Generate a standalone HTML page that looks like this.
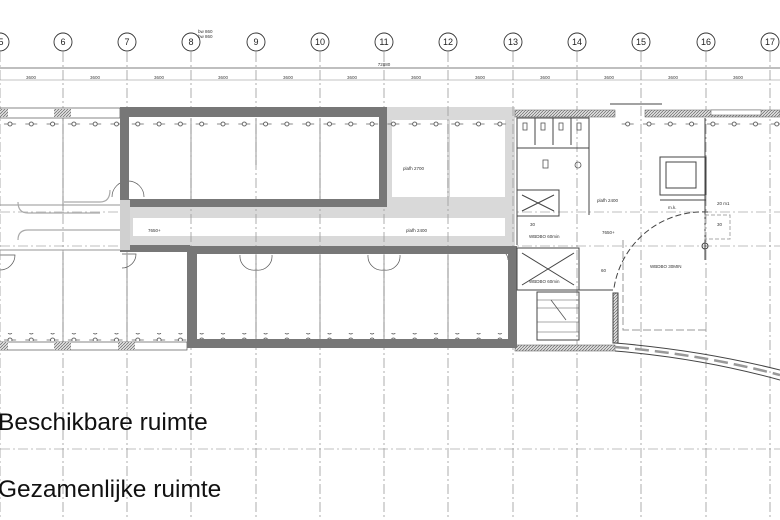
<!DOCTYPE html>
<html><head><meta charset="utf-8"><style>
html,body{margin:0;padding:0;background:#fff;width:780px;height:520px;overflow:hidden}
svg{display:block}
text{font-family:"Liberation Sans",sans-serif}
</style></head><body>
<svg width="780" height="520" viewBox="0 0 780 520" xmlns="http://www.w3.org/2000/svg">
<defs>
<pattern id="lux" x="0" y="0" width="21.3" height="8" patternUnits="userSpaceOnUse">
<line x1="4" y1="4" x2="16" y2="4" stroke="#555" stroke-width="0.7"/>
<circle cx="10" cy="4" r="2" fill="#fff" stroke="#444" stroke-width="0.8"/>
</pattern>
<pattern id="hatch" width="3" height="3" patternUnits="userSpaceOnUse">
<rect width="3" height="3" fill="#ddd"/><path d="M0 3L3 0" stroke="#555" stroke-width="0.6"/>
</pattern>
</defs>

<g stroke="#aaa" stroke-width="0.8" stroke-dasharray="10 3 2 3" fill="none">
<line x1="0" y1="212" x2="780" y2="212"/>
<line x1="0" y1="246" x2="780" y2="246"/>
<line x1="0" y1="449" x2="780" y2="449"/>
</g>

<rect x="387" y="107" width="128" height="143" fill="#d9d9d9"/>
<rect x="120" y="200" width="395" height="50" fill="#d9d9d9"/>
<rect x="392" y="120" width="55" height="77" fill="#fff"/>
<rect x="450" y="120" width="55" height="77" fill="#fff"/>
<rect x="133" y="218" width="372" height="18" fill="#fff"/>

<g stroke="#aaa" stroke-width="1.2" fill="none">
<line x1="63" y1="110" x2="63" y2="210"/><line x1="63" y1="252" x2="63" y2="342"/>
<line x1="0" y1="205" x2="120" y2="205"/><line x1="0" y1="250" x2="187" y2="250"/>
<line x1="191" y1="118" x2="191" y2="200"/><line x1="256" y1="118" x2="256" y2="165"/>
<line x1="320" y1="118" x2="320" y2="200"/>
<line x1="127" y1="255" x2="127" y2="342"/>
<line x1="256" y1="255" x2="256" y2="340"/><line x1="320" y1="255" x2="320" y2="340"/>
<line x1="384" y1="255" x2="384" y2="340"/><line x1="448" y1="255" x2="448" y2="340"/>
<path d="M18 202 Q18 213 28 213 L100 213"/>
<path d="M18 240 Q18 230 28 230 L120 230"/>
<path d="M110 190 Q110 202 100 202 L64 202"/>
</g>
<g stroke="#555" stroke-width="0.7" fill="none">
<path d="M112 197 A16 16 0 0 1 144 197"/>
<path d="M0 255 L15 255 A15 15 0 0 1 0 270"/>
<path d="M122 254 L136 254 A14 14 0 0 1 122 268"/>
<path d="M240 255 A14 14 0 0 0 256 270 A14 14 0 0 0 272 255"/>
<path d="M368 255 A14 14 0 0 0 384 270 A14 14 0 0 0 400 255"/>
<path d="M498 250 A10 10 0 0 1 508 260"/>
</g>

<g stroke="#999" stroke-width="0.8" stroke-dasharray="10 3 2 3" fill="none">
<line x1="0" y1="52" x2="0" y2="520"/><line x1="63" y1="52" x2="63" y2="520"/>
<line x1="127" y1="52" x2="127" y2="520"/><line x1="191" y1="52" x2="191" y2="520"/>
<line x1="256" y1="52" x2="256" y2="520"/><line x1="320" y1="52" x2="320" y2="520"/>
<line x1="384" y1="52" x2="384" y2="520"/><line x1="448" y1="52" x2="448" y2="520"/>
<line x1="513" y1="52" x2="513" y2="520"/><line x1="577" y1="52" x2="577" y2="520"/>
<line x1="641" y1="52" x2="641" y2="520"/><line x1="706" y1="52" x2="706" y2="520"/>
<line x1="770" y1="52" x2="770" y2="520"/>
</g>

<g stroke="#333" stroke-width="0.9" fill="#fff">
<circle cx="0" cy="42" r="9"/><circle cx="63" cy="42" r="9"/><circle cx="127" cy="42" r="9"/>
<circle cx="191" cy="42" r="9"/><circle cx="256" cy="42" r="9"/><circle cx="320" cy="42" r="9"/>
<circle cx="384" cy="42" r="9"/><circle cx="448" cy="42" r="9"/><circle cx="513" cy="42" r="9"/>
<circle cx="577" cy="42" r="9"/><circle cx="641" cy="42" r="9"/><circle cx="706" cy="42" r="9"/>
<circle cx="770" cy="42" r="9"/>
</g>
<g font-size="9" text-anchor="middle" fill="#222">
<text x="1" y="45">5</text><text x="63" y="45">6</text><text x="127" y="45">7</text>
<text x="191" y="45">8</text><text x="256" y="45">9</text><text x="320" y="45">10</text>
<text x="384" y="45">11</text><text x="448" y="45">12</text><text x="513" y="45">13</text>
<text x="577" y="45">14</text><text x="641" y="45">15</text><text x="706" y="45">16</text>
<text x="770" y="45">17</text>
</g>
<text x="198" y="33" font-size="4.5" fill="#333">bw 860</text>
<text x="198" y="38" font-size="4.5" fill="#333">bw 860</text>

<line x1="0" y1="68" x2="780" y2="68" stroke="#555" stroke-width="0.8"/>
<line x1="0" y1="80" x2="780" y2="80" stroke="#888" stroke-width="0.6"/>
<text x="384" y="66" font-size="4.5" text-anchor="middle" fill="#333">72880</text>
<g font-size="4.5" text-anchor="middle" fill="#444">
<text x="31" y="79">3600</text><text x="95" y="79">3600</text><text x="159" y="79">3600</text>
<text x="223" y="79">3600</text><text x="288" y="79">3600</text><text x="352" y="79">3600</text>
<text x="416" y="79">3600</text><text x="480" y="79">3600</text><text x="545" y="79">3600</text>
<text x="609" y="79">3600</text><text x="673" y="79">3600</text><text x="738" y="79">3600</text>
</g>

<rect x="0" y="108" width="120" height="10" fill="#fff" stroke="#555" stroke-width="0.7"/>
<rect x="0" y="109" width="8" height="8" fill="url(#hatch)"/><rect x="54" y="109" width="17" height="8" fill="url(#hatch)"/>
<rect x="515" y="110" width="100" height="7" fill="url(#hatch)" stroke="#555" stroke-width="0.5"/>
<rect x="645" y="110" width="135" height="7" fill="url(#hatch)" stroke="#555" stroke-width="0.5"/>
<rect x="711" y="110" width="50" height="5" fill="#fff" stroke="#555" stroke-width="0.5"/>
<line x1="610" y1="104" x2="662" y2="104" stroke="#444"/>
<rect x="0" y="342" width="187" height="8" fill="#fff" stroke="#555" stroke-width="0.7"/>
<rect x="0" y="342" width="8" height="8" fill="url(#hatch)"/><rect x="54" y="342" width="17" height="8" fill="url(#hatch)"/><rect x="118" y="342" width="17" height="8" fill="url(#hatch)"/>
<rect x="515" y="345" width="100" height="6" fill="url(#hatch)" stroke="#555" stroke-width="0.5"/>
<path d="M615 343 Q700 350 780 370" stroke="#444" stroke-width="1" fill="none"/>
<path d="M615 351 Q700 358 780 380" stroke="#444" stroke-width="1" fill="none"/>
<path d="M615 347 Q700 354 780 375" stroke="#999" stroke-width="2.5" fill="none" stroke-dasharray="14 6"/>

<rect x="0" y="119" width="515" height="8" fill="url(#lux)"/>
<rect x="0" y="333" width="515" height="8" fill="url(#lux)"/>
<rect x="615" y="119" width="165" height="8" fill="url(#lux)"/>

<path d="M120 107 H387 V207 H120 Z M129 117 V199 H379 V117 Z" fill="#777" fill-rule="evenodd"/>
<path d="M187 246 H517 V348 H187 Z M197 254 V339 H508 V254 Z" fill="#777" fill-rule="evenodd"/>
<rect x="120" y="245" width="70" height="7" fill="#777"/>
<rect x="120" y="200" width="10" height="50" fill="#d0d0d0"/>

<g stroke="#444" stroke-width="1" fill="none">
<rect x="517" y="118" width="72" height="30"/>
<line x1="535" y1="118" x2="535" y2="145"/><line x1="553" y1="118" x2="553" y2="145"/><line x1="571" y1="118" x2="571" y2="145"/>
<line x1="517" y1="118" x2="517" y2="245"/>
<line x1="589" y1="118" x2="589" y2="215"/>
<rect x="517" y="190" width="42" height="26"/>
<path d="M522 195 L554 211 M554 195 L522 211"/>
<rect x="517" y="248" width="62" height="42"/>
<path d="M522 253 L574 285 M574 253 L522 285"/>
<rect x="537" y="292" width="42" height="48"/>
<rect x="613" y="293" width="5" height="50" fill="url(#hatch)"/>
<line x1="579" y1="290" x2="613" y2="290"/>
<rect x="660" y="157" width="46" height="38"/>
<rect x="666" y="162" width="30" height="26"/>
<line x1="660" y1="200" x2="706" y2="200"/>
<line x1="705" y1="118" x2="705" y2="260"/>
<path d="M708 212 A90 90 0 0 0 614 288" stroke-dasharray="6 3"/>
<circle cx="705" cy="246" r="3"/>
<rect x="705" y="215" width="25" height="24" stroke="#aaa" stroke-dasharray="4 2"/>
<path d="M623 240 V330 H706" stroke="#999" stroke-dasharray="8 3"/>
</g>
<g stroke="#555" stroke-width="0.8" fill="none">
<rect x="523" y="123" width="4" height="7"/><rect x="541" y="123" width="4" height="7"/>
<rect x="559" y="123" width="4" height="7"/><rect x="577" y="123" width="4" height="7"/>
<rect x="543" y="160" width="5" height="8"/><circle cx="578" cy="165" r="3"/>
<line x1="551" y1="300" x2="566" y2="320"/>
</g>
<g stroke="#555" stroke-width="0.5">
<line x1="537" y1="300" x2="579" y2="300"/><line x1="537" y1="308" x2="579" y2="308"/>
<line x1="537" y1="322" x2="579" y2="322"/><line x1="537" y1="332" x2="579" y2="332"/>
</g>

<g font-size="4.5" fill="#333">
<text x="403" y="170">plafh 2700</text>
<text x="406" y="232">plafh 2400</text>
<text x="148" y="232">7650+</text>
<text x="597" y="202">plafh 2400</text>
<text x="602" y="234">7650+</text>
<text x="529" y="238">WBDBO 60min</text>
<text x="529" y="283">WBDBO 60min</text>
<text x="650" y="268">WBDBO 30MIN</text>
<text x="668" y="209">m.k.</text>
<text x="717" y="205">20 m1</text>
<text x="717" y="226">30</text>
<text x="530" y="226">30</text>
<text x="601" y="272">60</text>
</g>

<text x="-2" y="430" font-size="24.5" fill="#111">Beschikbare ruimte</text>
<text x="-2" y="497" font-size="24.5" fill="#111">Gezamenlijke ruimte</text>
</svg>
</body></html>
